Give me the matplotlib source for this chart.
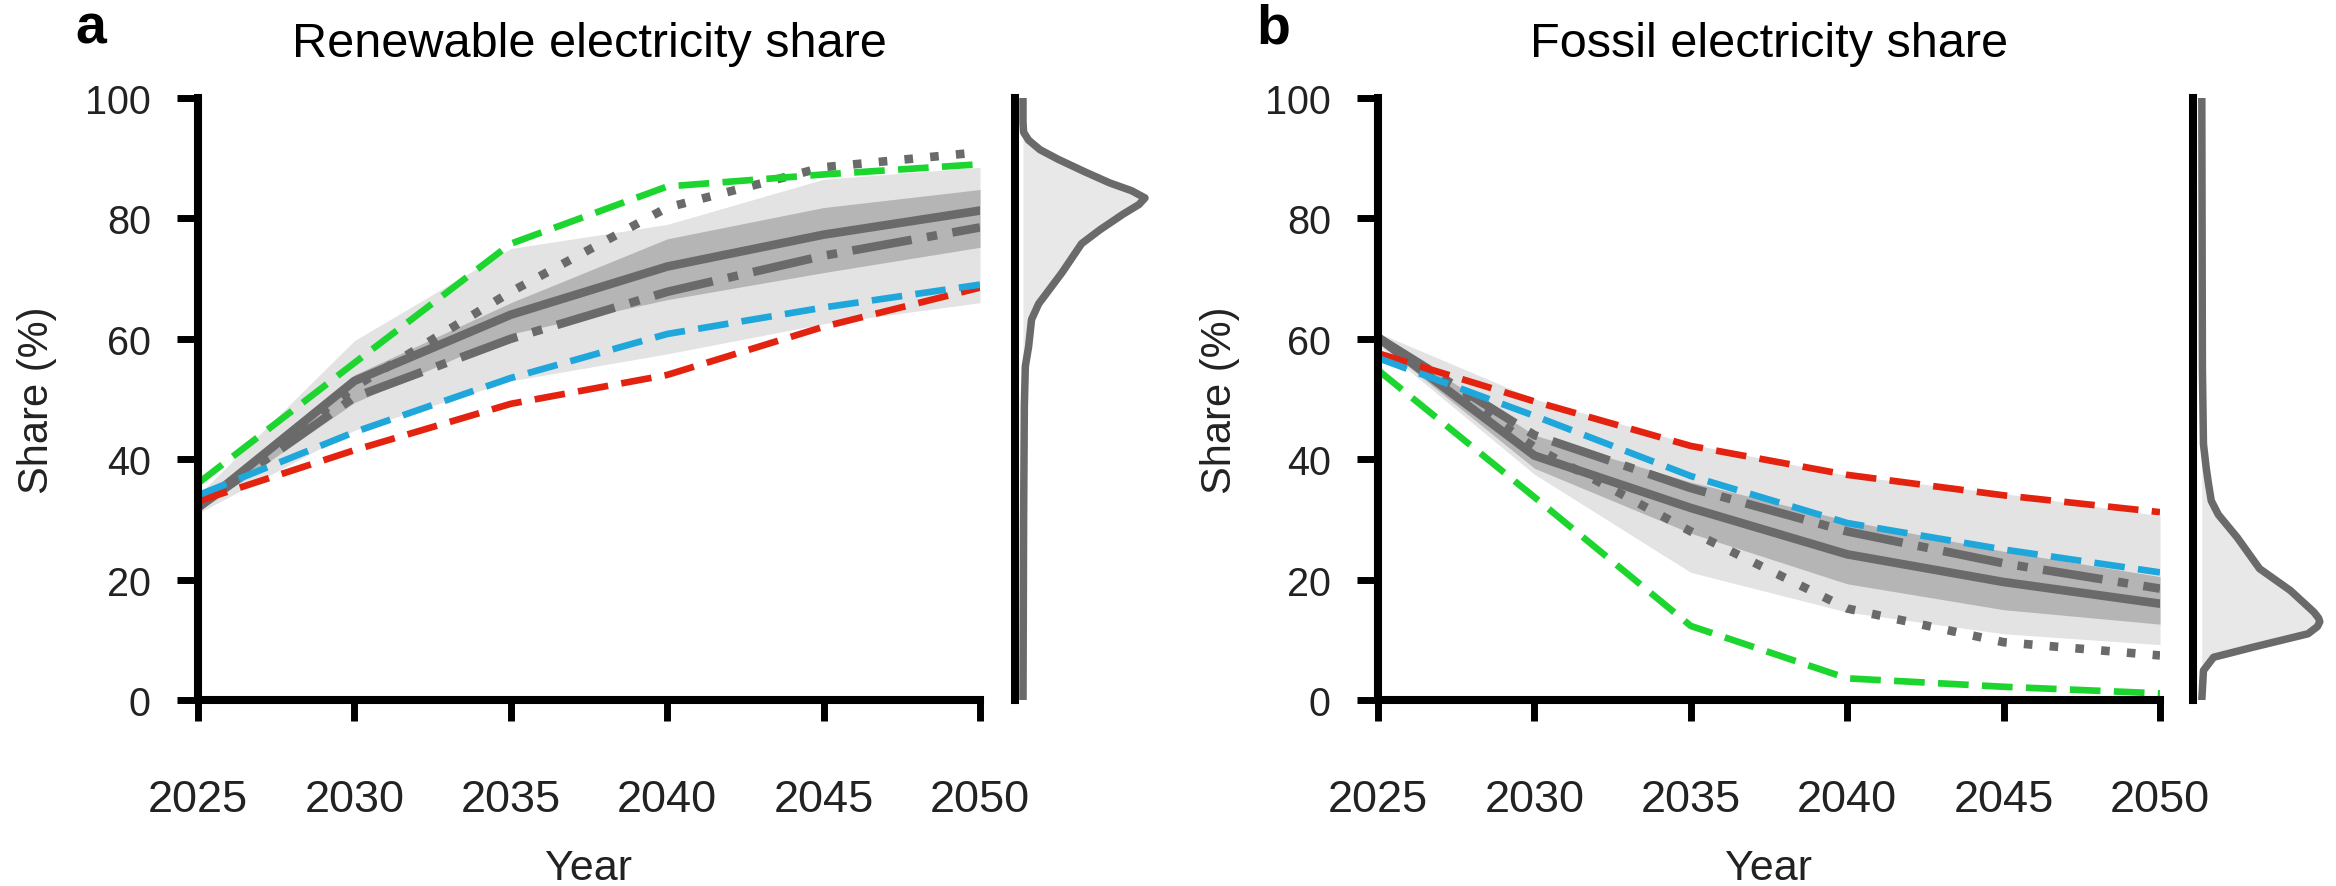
import matplotlib
matplotlib.use("Agg")
import matplotlib.pyplot as plt

plt.rcParams['font.family'] = ['Liberation Sans', 'DejaVu Sans']

# ---------------- data ----------------
years = [2025, 2030, 2035, 2040, 2045, 2050]

# Panel a: renewable electricity share (%)
ren_green = [36.0, 56.0, 75.8, 85.3, 87.3, 89.0]
ren_blue = [34.0, 44.5, 53.5, 60.8, 65.2, 69.0]
ren_red = [33.0, 41.5, 49.2, 54.0, 62.0, 68.5]
ren_median = [32.0, 53.0, 64.0, 72.0, 77.3, 81.3]
ren_dashdot = [32.0, 50.3, 60.0, 67.8, 73.8, 78.5]
ren_dotted = [32.0, 52.0, 67.8, 81.8, 88.5, 91.0]
ren_outer_lo = [31.0, 44.8, 53.0, 57.5, 62.5, 66.0]
ren_outer_hi = [34.0, 59.7, 75.0, 79.0, 86.5, 88.5]
ren_inner_lo = [31.5, 49.4, 60.8, 66.5, 71.0, 75.2]
ren_inner_hi = [33.0, 54.0, 66.0, 76.6, 81.8, 84.8]

# Panel b: fossil electricity share (%)
fos_green = [54.8, 33.7, 12.3, 3.6, 2.2, 1.1]
fos_blue = [56.8, 47.2, 37.2, 29.4, 25.0, 21.2]
fos_red = [57.6, 49.6, 42.2, 37.4, 34.0, 31.2]
fos_median = [60.2, 40.6, 31.9, 24.2, 19.6, 16.0]
fos_dashdot = [60.2, 44.0, 35.2, 28.0, 22.7, 18.5]
fos_dotted = [60.2, 42.0, 28.0, 15.2, 9.6, 7.4]
fos_outer_lo = [59.0, 37.5, 21.2, 14.6, 11.0, 9.2]
fos_outer_hi = [61.0, 50.0, 42.5, 37.3, 34.3, 30.6]
fos_inner_lo = [59.5, 38.5, 27.7, 19.3, 15.0, 12.6]
fos_inner_hi = [60.8, 44.0, 36.2, 29.8, 24.7, 20.5]

# 2050 distributions (relative density vs share)
ren_density_share = [100, 96, 94.3, 93.0, 91.4, 89.8, 87.8, 85.9, 84.6, 83.4, 82.3,
                     80.7, 78.1, 75.8, 71.0, 65.8, 63.2, 58.7, 55.4, 48.9, 30, 0]
ren_density = [0, 0, 0.005, 0.046, 0.14, 0.29, 0.50, 0.71, 0.89, 1.0, 0.95,
               0.82, 0.63, 0.48, 0.32, 0.128, 0.07, 0.046, 0.019, 0.011, 0.005, 0]
fos_density_share = [100, 55, 42.5, 38.6, 36.0, 33.1, 30.8, 27.0, 21.8, 18.2, 14.6,
                     13.6, 13.0, 12.2, 11.0, 8.8, 7.1, 4.9, 0]
fos_density = [0, 0.005, 0.014, 0.037, 0.056, 0.08, 0.14, 0.30, 0.49, 0.75, 0.95,
               0.99, 1.0, 0.98, 0.90, 0.44, 0.1, 0.014, 0]

titles = ["Renewable electricity share", "Fossil electricity share"]
letters = ["a", "b"]
yticks = [0, 20, 40, 60, 80, 100]

# ---------------- style ----------------
GREEN = '#1dd52f'
BLUE = '#1fa7dc'
RED = '#e3230f'
GREY = '#6a6a6a'
LIGHT = '#e3e3e3'
DARK = '#b5b5b5'
DFILL = '#e8e8e8'
TXT = '#222222'

W, H = 2336, 887
fig = plt.figure(figsize=(W / 100, H / 100), dpi=100)

SPINE_LW = 5.8
COL_LW = 4.8
GREY_LW = 6.2


def main_axes(left_px, title, letter, letter_px, ylabel_px,
              green, blue, red, median, dashdot, dotted,
              olo, ohi, ilo, ihi):
    ax = fig.add_axes([left_px / W, 1 - 701 / H, 782 / W, 602 / H])
    ax.set_xlim(2025, 2050)
    ax.set_ylim(0, 100)
    ax.fill_between(years, olo, ohi, color=LIGHT, lw=0, zorder=1)
    ax.fill_between(years, ilo, ihi, color=DARK, lw=0, zorder=1.1)
    ax.plot(years, median, color=GREY, lw=GREY_LW, zorder=2)
    ax.plot(years, dashdot, color=GREY, lw=GREY_LW, zorder=2,
            linestyle=(0, (7, 1.8, 1.2, 1.8)), dash_capstyle='butt')
    ax.plot(years, dotted, color=GREY, lw=GREY_LW, zorder=2,
            linestyle=(0, (1.0, 2.0)), dash_capstyle='butt')
    for vals, c in [(red, RED), (blue, BLUE), (green, GREEN)]:
        ax.plot(years, vals, color=c, lw=COL_LW, zorder=2.2,
                linestyle=(0, (4.6, 2.0)), dash_capstyle='butt')
    for s in ['top', 'right']:
        ax.spines[s].set_visible(False)
    for s in ['left', 'bottom']:
        ax.spines[s].set_linewidth(SPINE_LW)
        ax.spines[s].set_color('black')
        ax.spines[s].set_capstyle('projecting')
    ax.set_xticks(years)
    ax.set_yticks(yticks)
    ax.tick_params(axis='both', direction='out', length=15, width=5, color='black')
    ax.tick_params(axis='x', labelsize=32.5, pad=42, labelcolor=TXT)
    ax.tick_params(axis='y', labelsize=28.5, pad=19, labelcolor=TXT)
    ax.set_title(title, fontsize=35, y=1 + 42 / 602, pad=0, color='black')
    ax.set_xlabel('Year', fontsize=31, color=TXT)
    ax.xaxis.label.set_verticalalignment('baseline')
    ax.xaxis.set_label_coords(0.5, (701 - 880) / 602)
    ax.set_ylabel('Share (%)', fontsize=30, color=TXT)
    ax.yaxis.label.set_verticalalignment('center')
    ax.yaxis.set_label_coords((ylabel_px - left_px) / 782, 0.5)
    fig.text(letter_px / W, 1 - 43 / H, letter, fontsize=40, fontweight='bold',
             ha='left', va='baseline', color='black')
    return ax


def density_axes(spine_px, width_px, zero_px, peak_px, share, dens):
    ax = fig.add_axes([spine_px / W, 1 - 701 / H, width_px / W, 602 / H])
    ax.patch.set_visible(False)
    ax.set_ylim(0, 100)
    ax.set_xlim(-zero_px / peak_px, (width_px - zero_px) / peak_px)
    ax.fill_betweenx(share, 0, dens, color=DFILL, lw=0, zorder=1)
    ax.plot(dens, share, color=GREY, lw=5.4, zorder=2, solid_joinstyle='round')
    for s in ['top', 'right', 'bottom']:
        ax.spines[s].set_visible(False)
    ax.spines['left'].set_linewidth(SPINE_LW)
    ax.spines['left'].set_color('black')
    ax.spines['left'].set_zorder(3)
    ax.set_xticks([])
    ax.set_yticks([])
    return ax


main_axes(198, titles[0], letters[0], 75, 37,
          ren_green, ren_blue, ren_red, ren_median, ren_dashdot, ren_dotted,
          ren_outer_lo, ren_outer_hi, ren_inner_lo, ren_inner_hi)
density_axes(1015, 155, 8.0, 122, ren_density_share, ren_density)

main_axes(1378, titles[1], letters[1], 1256, 1220,
          fos_green, fos_blue, fos_red, fos_median, fos_dashdot, fos_dotted,
          fos_outer_lo, fos_outer_hi, fos_inner_lo, fos_inner_hi)
density_axes(2193, 143, 8.8, 118, fos_density_share, fos_density)

fig.savefig('out.png', dpi=100, facecolor='white')
